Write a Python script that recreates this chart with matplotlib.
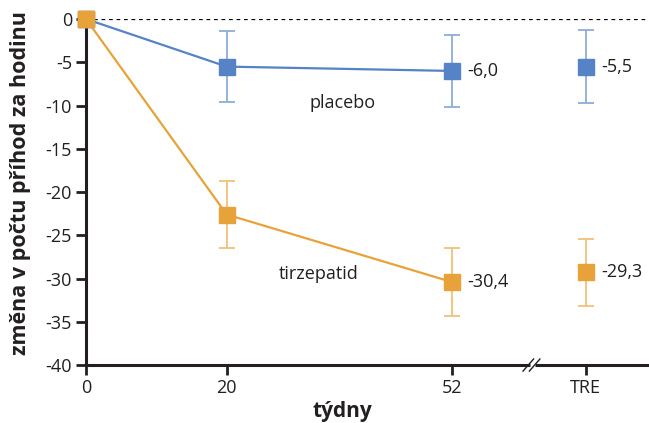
import matplotlib
matplotlib.use("Agg")
import matplotlib.pyplot as plt

plt.rcParams['font.family'] = ['Open Sans', 'DejaVu Sans']

# Week positions; the TRE point sits past an axis break
x_ticks = [0, 20, 52, 71]
x_labels = ["0", "20", "52", "TRE"]
weeks = [0, 20, 52]
tre_x = 71

placebo = [0, -5.5, -6.0]
placebo_err = [0, 4.1, 4.2]
placebo_tre = -5.5
placebo_tre_err = 4.2

tirzepatid = [0, -22.6, -30.4]
tirzepatid_err = [0, 3.85, 3.9]
tirzepatid_tre = -29.3
tirzepatid_tre_err = 3.85

y_ticks = [0, -5, -10, -15, -20, -25, -30, -35, -40]

blue = "#5583C5"
orange = "#E8A23A"
blue_err = "#8EACDA"
orange_err = "#F1C27A"
ink = "#231f20"

fig = plt.figure(figsize=(6.49, 4.23), dpi=100)
ax = fig.add_axes([0.1325, 0.137, 0.8675, 0.818])

ax.set_xlim(0, 80)
ax.set_ylim(-40, 0)

# zero reference line
ax.axhline(0, color="black", lw=0.9, ls=(0, (3, 3)), zorder=1)

def series(vals, errs, tre_val, tre_err, color, ecolor):
    ax.errorbar(weeks[1:], vals[1:], yerr=errs[1:], fmt="none", ecolor=ecolor,
                elinewidth=1.3, capsize=6, capthick=1.3, zorder=2)
    ax.errorbar([tre_x], [tre_val], yerr=[tre_err], fmt="none", ecolor=ecolor,
                elinewidth=1.3, capsize=6, capthick=1.3, zorder=2)
    ax.plot(weeks, vals, color=color, lw=1.6, zorder=3)
    ax.plot(weeks, vals, ls="none", marker="s", ms=11, color=color, mec=color,
            zorder=4, clip_on=False)
    ax.plot([tre_x], [tre_val], ls="none", marker="s", ms=11, color=color,
            mec=color, zorder=4, clip_on=False)

series(tirzepatid, tirzepatid_err, tirzepatid_tre, tirzepatid_tre_err, orange, orange_err)
series(placebo, placebo_err, placebo_tre, placebo_tre_err, blue, blue_err)
# orange start marker on top
ax.plot([0], [tirzepatid[0]], ls="none", marker="s", ms=11, color=orange,
        zorder=5, clip_on=False)

def fmt(v):
    return f"{v:.1f}".replace(".", ",")

fs = 13
off = 2.2
ax.text(weeks[2] + off, placebo[2], fmt(placebo[2]), va="center", ha="left", fontsize=fs, color=ink)
ax.text(tre_x + off, placebo_tre, fmt(placebo_tre), va="center", ha="left", fontsize=fs, color=ink)
ax.text(weeks[2] + off, tirzepatid[2], fmt(tirzepatid[2]), va="center", ha="left", fontsize=fs, color=ink)
ax.text(tre_x + off, tirzepatid_tre, fmt(tirzepatid_tre), va="center", ha="left", fontsize=fs, color=ink)

ax.text(36.5, -9.7, "placebo", ha="center", va="center", fontsize=fs, color=ink)
ax.text(33.0, -29.5, "tirzepatid", ha="center", va="center", fontsize=fs, color=ink)

ax.set_xticks(x_ticks)
ax.set_xticklabels(x_labels)
ax.set_yticks(y_ticks)
ax.set_yticklabels([str(t) for t in y_ticks])
ax.tick_params(axis="both", direction="out", length=7, width=2, labelsize=fs,
               colors=ink, pad=3)

for s in ["top", "right"]:
    ax.spines[s].set_visible(False)
for s in ["left", "bottom"]:
    ax.spines[s].set_linewidth(2.2)
    ax.spines[s].set_color(ink)

# axis break marks between week 52 and TRE
bx = 63.3
ax.plot([bx - 0.2, bx + 0.55], [-40, -40], color="white", lw=3.5,
        clip_on=False, zorder=6, solid_capstyle="butt")
for dx in (-0.45, 0.45):
    ax.plot([bx + dx - 0.75, bx + dx + 0.75], [-40.7, -39.3], color=ink,
            lw=1.0, clip_on=False, zorder=7)

ax.set_ylabel("změna v počtu příhod za hodinu", fontsize=15.5, fontweight="bold",
              color=ink)
ax.yaxis.set_label_coords(-0.097, 0.526)
ax.set_xlabel("týdny", fontsize=15, fontweight="bold", color=ink)
ax.xaxis.set_label_coords(0.455, -0.105)

fig.savefig("out.png", dpi=100)
